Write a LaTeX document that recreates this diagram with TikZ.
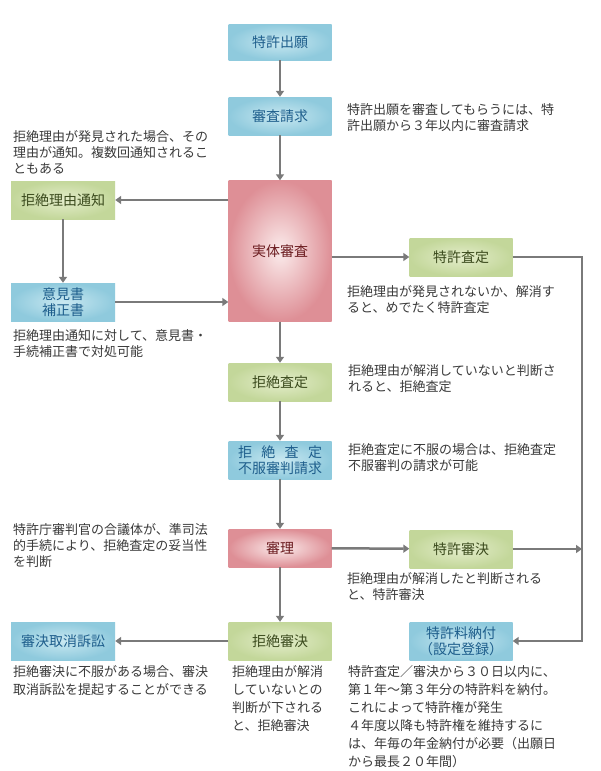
\documentclass[tikz,border=0pt]{standalone}
\usepackage{xcolor}
\usepackage{fontspec}
\setmainfont{Noto Sans CJK JP}
\usepackage{tikz}
\usetikzlibrary{arrows.meta}

\definecolor{blueedge}{HTML}{8FCADD}
\definecolor{bluemid}{HTML}{C9E8F1}
\definecolor{bluetext}{HTML}{1E5E8C}
\definecolor{greenedge}{HTML}{C3D79A}
\definecolor{greenmid}{HTML}{E4EDCB}
\definecolor{greentext}{HTML}{3A4A1C}
\definecolor{pinkedge}{HTML}{DE8F96}
\definecolor{pinkmid}{HTML}{FBECEC}
\definecolor{pinktext}{HTML}{6A1A1E}
\definecolor{linkgray}{HTML}{7A7A7A}
\definecolor{notetext}{HTML}{3A3A3A}

\begin{document}
\begin{tikzpicture}[x=1pt,y=-1pt,
  box/.style={minimum width=103pt,minimum height=38pt,inner sep=2pt,align=center,
    font=\fontsize{14}{16}\selectfont},
  bluebox/.style={box,inner color=bluemid,outer color=blueedge,text=bluetext},
  greenbox/.style={box,inner color=greenmid,outer color=greenedge,text=greentext},
  pinkbox/.style={box,inner color=pinkmid,outer color=pinkedge,text=pinktext},
  note/.style={anchor=north west,align=left,inner sep=0pt,text=notetext,
    font=\fontsize{13}{16}\selectfont},
  lownote/.style={note,font=\fontsize{13}{18}\selectfont},
  link/.style={draw=linkgray,line width=2.5pt,-{Triangle[width=8pt,length=6pt]}}]
\fill[white] (0,0) rectangle (600,771);
\useasboundingbox (0,0) rectangle (600,771);

  \node[bluebox,minimum height=36pt] (app) at (280,42) {特許出願};
  \node[bluebox] (req) at (280,116) {審査請求};
  \node[pinkbox,minimum height=141pt] (exam) at (280,251) {実体審査};
  \node[greenbox,minimum width=104pt] (notice) at (63,200) {拒絶理由通知};
  \node[bluebox,minimum width=104pt] (reply) at (63,302) {意見書\\補正書};
  \node[greenbox] (grant) at (461,257) {特許査定};
  \node[greenbox] (refuse) at (280,382) {拒絶査定};
  \node[bluebox] (appeal) at (280,460) {\hbox to 84pt{拒\hfil 絶\hfil 査\hfil 定}\\不服審判請求};
  \node[pinkbox] (trial) at (280,548) {審理};
  \node[greenbox] (tgrant) at (461,549) {特許審決};
  \node[greenbox] (trefuse) at (280,641) {拒絶審決};
  \node[bluebox,minimum width=104pt] (suit) at (63,641) {審決取消訴訟};
  \node[bluebox] (fee) at (461,641) {特許料納付\\（設定登録）};
  \coordinate (rline) at (582,400);

  \node[note] (n1) at (347,103) {特許出願を審査してもらうには、特\\許出願から３年以内に審査請求};
  \node[note] (n2) at (13,130) {拒絶理由が発見された場合、その\\理由が通知。複数回通知されるこ\\ともある};
  \node[note] (n3) at (347,285) {拒絶理由が発見されないか、解消す\\ると、めでたく特許査定};
  \node[note] (n4) at (13,329) {拒絶理由通知に対して、意見書・\\手続補正書で対処可能};
  \node[note] (n5) at (348,364) {拒絶理由が解消していないと判断さ\\れると、拒絶査定};
  \node[note] (n6) at (348,443) {拒絶査定に不服の場合は、拒絶査定\\不服審判の請求が可能};
  \node[note] (n7) at (13,523) {特許庁審判官の合議体が、準司法\\的手続により、拒絶査定の妥当性\\を判断};
  \node[note] (n8) at (347,572) {拒絶理由が解消したと判断される\\と、特許審決};
  \node[lownote] (n9) at (13,665) {拒絶審決に不服がある場合、審決\\取消訴訟を提起することができる};
  \node[lownote] (n10) at (232,665) {拒絶理由が解消\\していないとの\\判断が下される\\と、拒絶審決};
  \node[lownote] (n11) at (348,665) {特許査定／審決から３０日以内に、\\第１年～第３年分の特許料を納付。\\これによって特許権が発生\\４年度以降も特許権を維持するに\\は、年毎の年金納付が必要（出願日\\から最長２０年間）};

  \draw[link] (app) -- (req);
  \draw[link] (req) -- (exam);
  \draw[link] (exam.west |- notice) -- (notice);
  \draw[link] (notice) -- (reply);
  \draw[link] (reply) -- (exam.west |- reply);
  \draw[link] (exam.east |- grant) -- (grant);
  \draw[link] (exam) -- (refuse);
  \draw[link] (refuse) -- (appeal);
  \draw[link] (appeal) -- (trial);
  \draw[link] (trial) -- (tgrant);
  \draw[link] (tgrant) -- (tgrant -| rline);
  \draw[link] (grant.east) -| (rline) |- (fee.east);
  \draw[link] (trial) -- (trefuse);
  \draw[link] (trefuse) -- (suit);
\end{tikzpicture}
\end{document}
